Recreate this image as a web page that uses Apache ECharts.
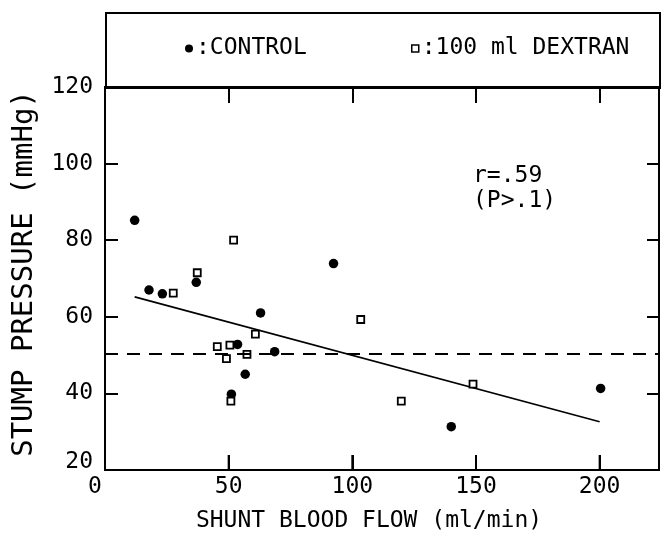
<!DOCTYPE html>
<html>
<head>
<meta charset="utf-8">
<script src="https://cdn.jsdelivr.net/npm/echarts@6/dist/echarts.min.js"></script>
<style>
html,body{margin:0;padding:0;background:#fff;}
#chart{width:669px;height:539px;}
</style>
</head>
<body>
<div id="chart"></div>
<script>
// ---- data ----
const controlX = [12.0, 17.8, 23.2, 36.9, 51.1, 53.6, 56.7, 62.9, 68.6, 92.4, 140.0, 200.4];
const controlY = [85.2, 67.0, 66.0, 69.0, 39.8, 52.8, 45.0, 61.0, 50.9, 73.9, 31.3, 41.3];
const dextranX = [27.6, 37.3, 45.4, 49.1, 50.5, 50.9, 52.0, 57.4, 60.8, 103.4, 119.8, 148.8];
const dextranY = [66.2, 71.5, 52.2, 49.1, 52.6, 38.0, 80.0, 50.2, 55.5, 59.3, 38.0, 42.4];
const fitX = [12, 200];
const fitY = [65.2, 32.6];
const thresholdY = 50.3;
const xTickLabels = [0, 50, 100, 150, 200];
const yTickLabels = [20, 40, 60, 80, 100, 120];
const seriesNames = ['CONTROL', '100 ml DEXTRAN'];
const xTitle = 'SHUNT BLOOD FLOW (ml/min)';
const yTitle = 'STUMP PRESSURE (mmHg)';
const annotation = ['r=.59', '(P>.1)'];

const zip = (a, b) => a.map((v, i) => [v, b[i]]);
const FONT = 'DejaVu Sans Mono';
const FS = 23;

const chart = echarts.init(document.getElementById('chart'), null, {renderer: 'canvas'});

const W = 669, H = 539;
const gridL = 105, gridR = 10, gridT = 87, gridB = 69;
const X_MIN = 0, X_MAX = 224, X_INT = 50;
const Y_MIN = 20, Y_MAX = 120, Y_INT = 20;
const BOTTOM_TICK_PX = 15;

function tickAxis(pos, len, isX) {
  return {
    type: 'value', position: pos,
    min: isX ? X_MIN : Y_MIN, max: isX ? X_MAX : Y_MAX, interval: isX ? X_INT : Y_INT,
    axisLine: {show: false, onZero: false},
    axisTick: {show: true, inside: true, length: len, lineStyle: {color: '#000', width: 2}},
    axisLabel: {show: false}, splitLine: {show: false}
  };
}

const option = {
  backgroundColor: '#fff',
  animation: false,
  textStyle: {fontFamily: FONT, color: '#000'},
  grid: {left: gridL, right: gridR, top: gridT, bottom: gridB, show: true, borderColor: '#000', borderWidth: 2, backgroundColor: 'transparent'},
  legend: [
    {
      data: [{name: seriesNames[0], icon: 'circle', itemStyle: {color: '#000'}}],
      left: 185, top: 37, padding: 0, itemWidth: 8, itemHeight: 8, itemGap: 0,
      formatter: n => ':' + n,
      textStyle: {fontFamily: FONT, fontSize: FS, color: '#000', padding: [0, 0, 0, -2]},
      selectedMode: false
    },
    {
      data: [{name: seriesNames[1], icon: 'rect', itemStyle: {color: '#fff', borderColor: '#000', borderWidth: 1.5}}],
      left: 411, top: 37, padding: 0, itemWidth: 7, itemHeight: 7, itemGap: 0,
      formatter: n => ':' + n,
      textStyle: {fontFamily: FONT, fontSize: FS, color: '#000', padding: [0, 0, 0, -2]},
      selectedMode: false
    }
  ],
  xAxis: [
    {
      type: 'value', min: X_MIN, max: X_MAX, interval: X_INT, position: 'bottom',
      name: xTitle, nameLocation: 'middle', nameGap: 40,
      nameTextStyle: {fontFamily: FONT, fontSize: FS, color: '#000', padding: [0, 26, 0, 0]},
      axisLine: {show: true, onZero: false, lineStyle: {color: '#000', width: 2}},
      axisTick: {show: true, inside: true, length: BOTTOM_TICK_PX, lineStyle: {color: '#000', width: 2}},
      splitLine: {show: false},
      axisLabel: {
        show: true, margin: 6, showMaxLabel: false,
        fontFamily: FONT, fontSize: FS, color: '#000',
        formatter: v => xTickLabels.indexOf(v) === -1 ? '' : (v === xTickLabels[0] ? '{z|' + v + '}' : String(v)),
        rich: {z: {fontFamily: FONT, fontSize: FS, color: '#000', padding: [0, 20, 0, 0]}}
      }
    },
    tickAxis('top', 16, true)
  ],
  yAxis: [
    {
      type: 'value', min: Y_MIN, max: Y_MAX, interval: Y_INT, position: 'left',
      name: yTitle, nameLocation: 'middle', nameGap: 66, nameRotate: 90,
      nameTextStyle: {fontFamily: FONT, fontSize: 29, color: '#000', padding: [0, 0, 0, 10]},
      axisLine: {show: true, onZero: false, lineStyle: {color: '#000', width: 2}},
      axisTick: {show: false},
      splitLine: {show: false},
      axisLabel: {
        show: true, margin: 12, fontFamily: FONT, fontSize: FS, color: '#000',
        formatter: v => yTickLabels.indexOf(v) === -1 ? '' : (v === yTickLabels[0] ? '{z|' + v + '}' : String(v)),
        rich: {z: {fontFamily: FONT, fontSize: FS, color: '#000', padding: [0, 0, 16, 0]}}
      }
    },
    tickAxis('right', 12, false),
    tickAxis('left', 13, false)
  ],
  series: [
    {
      name: seriesNames[0], type: 'scatter', xAxisIndex: 0, yAxisIndex: 0,
      symbol: 'circle', symbolSize: 9.5,
      itemStyle: {color: '#000', opacity: 1},
      data: zip(controlX, controlY), z: 3
    },
    {
      name: seriesNames[1], type: 'scatter', xAxisIndex: 0, yAxisIndex: 0,
      symbol: 'rect', symbolSize: 7,
      itemStyle: {color: '#fff', borderColor: '#000', borderWidth: 1.8, opacity: 1},
      data: zip(dextranX, dextranY), z: 4
    },
    {
      name: 'fit', type: 'line', xAxisIndex: 0, yAxisIndex: 0,
      data: zip(fitX, fitY), showSymbol: false, symbol: 'none',
      lineStyle: {color: '#000', width: 1.6}, z: 2, silent: true,
      markLine: {
        silent: true, symbol: 'none', label: {show: false},
        lineStyle: {color: '#000', width: 2, type: [13, 9]},
        data: [{yAxis: thresholdY}]
      }
    }
  ],
  graphic: [
    {
      id: 'legendBox', type: 'rect', left: gridL, top: 12,
      shape: {width: W - gridL - gridR, height: gridT - 12},
      style: {fill: 'transparent', stroke: '#000', lineWidth: 2}, z: 10
    },
    {
      id: 'ann0', type: 'text', left: 473, top: 165,
      style: {text: annotation[0], fontFamily: FONT, fontSize: FS, fill: '#000'}
    },
    {
      id: 'ann1', type: 'text', left: 473, top: 190,
      style: {text: annotation[1], fontFamily: FONT, fontSize: FS, fill: '#000'}
    }
  ]
};
chart.setOption(option);

// inward tick marks on the bottom edge, positioned through the chart's own x scale
const tickEls = xTickLabels.filter(v => v > X_MIN).map((v, i) => {
  const p = chart.convertToPixel({xAxisIndex: 0, yAxisIndex: 0}, [v, Y_MIN]);
  return {
    id: 'btick' + i, type: 'line', z: 100, silent: true,
    shape: {x1: p[0], y1: p[1], x2: p[0], y2: p[1] - BOTTOM_TICK_PX},
    style: {stroke: '#000', lineWidth: 2}
  };
});
chart.setOption({graphic: tickEls});
</script>
</body>
</html>
